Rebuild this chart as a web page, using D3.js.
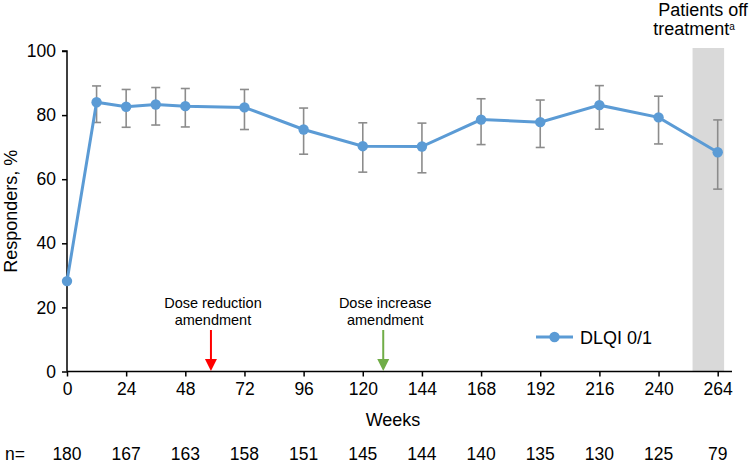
<!DOCTYPE html>
<html>
<head>
<meta charset="utf-8">
<script src="https://cdn.jsdelivr.net/npm/d3@7"></script>
<style>
  body { margin: 0; background: #fff; }
  svg { display: block; font-family: "Liberation Sans", Arial, sans-serif; }
</style>
</head>
<body>
<svg id="chart" width="751" height="466"></svg>
<script>
const weeks = [0, 12, 24, 36, 48, 72, 96, 120, 144, 168, 192, 216, 240, 264];
const responders = [28.2, 84.0, 82.6, 83.3, 82.8, 82.4, 75.5, 70.3, 70.2, 78.6, 77.8, 83.1, 79.3, 68.4];
const ciLow = [null, 77.7, 76.2, 76.9, 76.3, 75.5, 67.8, 62.2, 62.0, 70.8, 69.9, 75.6, 71.0, 56.9];
const ciHigh = [null, 89.1, 88.0, 88.6, 88.3, 88.0, 82.2, 77.6, 77.5, 85.1, 84.7, 89.2, 85.9, 78.5];
const xTicks = [0, 24, 48, 72, 96, 120, 144, 168, 192, 216, 240, 264];
const nAtRisk = [180, 167, 163, 158, 151, 145, 144, 140, 135, 130, 125, 79];
const yTicks = [0, 20, 40, 60, 80, 100];
const offTreatmentBand = [253.8, 266.6];
const amendments = [
  { week: 58.4, lines: ["Dose reduction", "amendment"], color: "#ff0000" },
  { week: 128.3, lines: ["Dose increase", "amendment"], color: "#70ad47" }
];
const seriesName = "DLQI 0/1";

const svg = d3.select("#chart");
const x = d3.scaleLinear().domain([0, 264]).range([67, 717.7]);
const y = d3.scaleLinear().domain([0, 100]).range([371.5, 51]);
const xEnd = 732;

// off-treatment band
svg.append("rect")
  .attr("x", x(offTreatmentBand[0]))
  .attr("y", 48)
  .attr("width", x(offTreatmentBand[1]) - x(offTreatmentBand[0]))
  .attr("height", y(0) - 48)
  .attr("fill", "#d9d9d9");

// Axes
const yAxis = d3.axisLeft(y).tickValues(yTicks).tickSize(5).tickPadding(6);
const gy = svg.append("g").attr("transform", `translate(${x(0)},0)`).call(yAxis);
gy.select(".domain").attr("stroke", "#000").attr("stroke-width", 1.5).attr("d", `M-5,${y(100)}H0V${y(0)}`);
gy.selectAll(".tick line").attr("stroke", "#000").attr("stroke-width", 1.5);
gy.selectAll(".tick text").attr("font-size", "17.5px").attr("fill", "#000").attr("font-family", "Liberation Sans, Arial, sans-serif");

const xAxis = d3.axisBottom(x).tickValues(xTicks).tickSize(5).tickPadding(6);
const gx = svg.append("g").attr("transform", `translate(0,${y(0)})`).call(xAxis);
gx.select(".domain").attr("stroke", "#000").attr("stroke-width", 1.5).attr("d", `M${x(0)},0H${xEnd}`);
gx.selectAll(".tick line").attr("stroke", "#000").attr("stroke-width", 1.5);
gx.selectAll(".tick text").attr("font-size", "17.5px").attr("fill", "#000").attr("font-family", "Liberation Sans, Arial, sans-serif");

// Axis titles
svg.append("text").attr("x", 393).attr("y", 426).attr("text-anchor", "middle")
  .attr("font-size", "18px").text("Weeks");
svg.append("text").attr("transform", `translate(17,${(y(0) + y(100)) / 2}) rotate(-90)`)
  .attr("text-anchor", "middle").attr("font-size", "18px").text("Responders, %");

// n row
svg.append("text").attr("x", 5).attr("y", 460).attr("font-size", "17.5px").text("n=");
svg.append("g").selectAll("text").data(xTicks).join("text")
  .attr("x", d => x(d)).attr("y", 460).attr("text-anchor", "middle")
  .attr("font-size", "17.5px").text((d, i) => nAtRisk[i]);

// Amendment arrows
const amG = svg.append("g").selectAll("g").data(amendments).join("g");
amG.append("line")
  .attr("x1", d => x(d.week)).attr("x2", d => x(d.week))
  .attr("y1", 330).attr("y2", 360)
  .attr("stroke", d => d.color).attr("stroke-width", 2);
amG.append("path")
  .attr("d", d => `M${x(d.week) - 6},359L${x(d.week) + 6},359L${x(d.week)},371Z`)
  .attr("fill", d => d.color);
amG.append("text")
  .attr("x", d => x(d.week) + 2).attr("y", 308)
  .attr("text-anchor", "middle").attr("font-size", "14.5px")
  .selectAll("tspan").data(d => d.lines).join("tspan")
  .attr("x", function() { return d3.select(this.parentNode).attr("x"); })
  .attr("dy", (d, i) => i === 0 ? 0 : 17)
  .text(d => d);

// Error bars
const eb = weeks.map((w, i) => ({ w, lo: ciLow[i], hi: ciHigh[i] })).filter(d => d.lo !== null);
const ebG = svg.append("g").attr("stroke", "#8c8c8c").attr("stroke-width", 1.6);
ebG.selectAll(".v").data(eb).join("line")
  .attr("x1", d => x(d.w)).attr("x2", d => x(d.w))
  .attr("y1", d => y(d.hi)).attr("y2", d => y(d.lo));
ebG.selectAll(".t").data(eb).join("line")
  .attr("x1", d => x(d.w) - 4.5).attr("x2", d => x(d.w) + 4.5)
  .attr("y1", d => y(d.hi)).attr("y2", d => y(d.hi));
ebG.selectAll(".b").data(eb).join("line")
  .attr("x1", d => x(d.w) - 4.5).attr("x2", d => x(d.w) + 4.5)
  .attr("y1", d => y(d.lo)).attr("y2", d => y(d.lo));

// Line and markers
const pts = weeks.map((w, i) => ({ w, v: responders[i] }));
svg.append("path").datum(pts)
  .attr("d", d3.line().x(d => x(d.w)).y(d => y(d.v)))
  .attr("fill", "none").attr("stroke", "#5b9bd5").attr("stroke-width", 3);
svg.append("g").selectAll("circle").data(pts).join("circle")
  .attr("cx", d => x(d.w)).attr("cy", d => y(d.v)).attr("r", 5.2)
  .attr("fill", "#5b9bd5");

// Legend
svg.append("line").attr("x1", 536).attr("x2", 573).attr("y1", 337).attr("y2", 337)
  .attr("stroke", "#5b9bd5").attr("stroke-width", 3);
svg.append("circle").attr("cx", 554.5).attr("cy", 337).attr("r", 5.2).attr("fill", "#5b9bd5");
svg.append("text").attr("x", 580).attr("y", 343.5).attr("font-size", "18px").text(seriesName);

// Patients off treatment label (single text element, two lines)
const pt = svg.append("text").attr("text-anchor", "middle").attr("font-size", "18px");
pt.append("tspan").attr("x", 703).attr("y", 16).text("Patients off");
pt.append("tspan").attr("x", 694).attr("y", 35).text("treatment");
pt.append("tspan").attr("font-size", "10px").attr("dy", -5).text("a");
</script>
</body>
</html>
